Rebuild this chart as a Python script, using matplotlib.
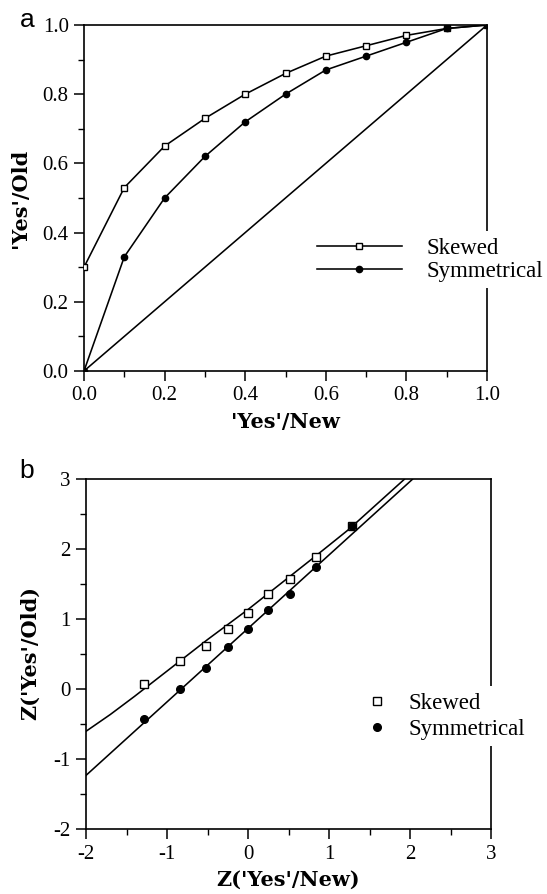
import numpy as np
import matplotlib.pyplot as plt
from matplotlib.ticker import MultipleLocator

plt.rcParams['font.family'] = ['Liberation Serif', 'DejaVu Serif']
plt.rcParams['axes.unicode_minus'] = False

# --- panel a : proportion of 'yes' responses ---
p_new = [0.0, 0.1, 0.2, 0.3, 0.4, 0.5, 0.6, 0.7, 0.8, 0.9, 1.0]
skewed_old = [0.30, 0.53, 0.65, 0.73, 0.80, 0.86, 0.91, 0.94, 0.97, 0.99, 1.0]
symm_old = [0.0, 0.33, 0.50, 0.62, 0.72, 0.80, 0.87, 0.91, 0.95, 0.99, 1.0]
chance_x = [0.0, 1.0]
chance_y = [0.0, 1.0]

# --- panel b : z-transformed ---
z_new = [-1.28, -0.84, -0.52, -0.25, 0.0, 0.25, 0.52, 0.84, 1.28]
z_skewed = [0.08, 0.40, 0.62, 0.86, 1.09, 1.36, 1.57, 1.89, 2.33]
z_symm = [-0.43, 0.0, 0.31, 0.60, 0.86, 1.13, 1.36, 1.75, 2.33]
fit_skewed_x = [-2.0, -1.7, -1.4, -1.0, -0.5, 0.0, 0.82, 1.24, 1.93]
fit_skewed_y = [-0.60, -0.36, -0.10, 0.26, 0.71, 1.14, 1.89, 2.28, 3.0]
fit_symm_x = [-2.0, 2.03]
fit_symm_y = [-1.23, 3.0]

W, H = 547, 894
fig = plt.figure(figsize=(W / 100, H / 100), dpi=100)

# axis titles: wide bold serif to mimic the letter-spaced originals
lab_font = dict(fontsize=15, fontweight='bold', family='DejaVu Serif',
                va='center')


def style_axes(ax):
    for sp in ax.spines.values():
        sp.set_linewidth(1.2)
    ax.tick_params(which='major', direction='out', length=7, width=1.1,
                   labelsize=15, pad=4, top=False, right=False)
    ax.tick_params(which='minor', direction='out', length=4, width=1.0,
                   top=False, right=False)


# panel a
axa = fig.add_axes([84 / W, 1 - 371 / H, 403 / W, 346 / H])
axa.plot(p_new, skewed_old, color='black', lw=1.15, marker='s', ms=4.5,
         mfc='white', mec='black', mew=1.0, label='Skewed', zorder=3)
axa.plot(p_new, symm_old, color='black', lw=1.15, marker='o', ms=4.5,
         mfc='black', mec='black', label='Symmetrical', zorder=3)
axa.plot(chance_x, chance_y, color='black', lw=1.15, zorder=2)
axa.set_xlim(0, 1)
axa.set_ylim(0, 1)
axa.xaxis.set_major_locator(MultipleLocator(0.2))
axa.xaxis.set_minor_locator(MultipleLocator(0.1))
axa.yaxis.set_major_locator(MultipleLocator(0.2))
axa.yaxis.set_minor_locator(MultipleLocator(0.1))
axa.xaxis.set_major_formatter(lambda v, p: f"{v:.1f}")
axa.yaxis.set_major_formatter(lambda v, p: f"{v:.1f}")
style_axes(axa)
axa.set_xlabel("'Yes'/New", **lab_font)
axa.set_ylabel("'Yes'/Old", **lab_font)
axa.xaxis.set_label_coords(0.5, -0.1465)
axa.yaxis.set_label_coords(-0.159, 0.5)
lega = axa.legend(loc='center left', bbox_to_anchor=(0.561, 0.321),
                  fontsize=16.5, frameon=True, fancybox=False, framealpha=1,
                  facecolor='white', edgecolor='none', borderaxespad=0,
                  borderpad=0.3, handlelength=3.7, handletextpad=1.1,
                  labelspacing=0.05)

# panel b
axb = fig.add_axes([86 / W, 1 - 829.3 / H, 405 / W, 350 / H])
axb.plot(z_new, z_skewed, ls='none', marker='s', ms=5.5, mfc='white',
         mec='black', mew=1.0, label='Skewed', zorder=3)
axb.plot(z_new, z_symm, ls='none', marker='o', ms=5.5, mfc='black',
         mec='black', label='Symmetrical', zorder=3)
axb.plot(fit_skewed_x, fit_skewed_y, color='black', lw=1.15, zorder=2)
axb.plot(fit_symm_x, fit_symm_y, color='black', lw=1.15, zorder=2)
axb.set_xlim(-2, 3)
axb.set_ylim(-2, 3)
axb.xaxis.set_major_locator(MultipleLocator(1))
axb.xaxis.set_minor_locator(MultipleLocator(0.5))
axb.yaxis.set_major_locator(MultipleLocator(1))
axb.yaxis.set_minor_locator(MultipleLocator(0.5))
style_axes(axb)
axb.set_xlabel("Z('Yes'/New)", **lab_font)
axb.set_ylabel("Z('Yes'/Old)", **lab_font)
axb.xaxis.set_label_coords(0.5, -0.145)
axb.yaxis.set_label_coords(-0.139, 0.504)
legb = axb.legend(loc='center left', bbox_to_anchor=(0.673, 0.323),
                  fontsize=16.5, frameon=True, fancybox=False, framealpha=1,
                  facecolor='white', edgecolor='none', borderaxespad=0,
                  borderpad=0.3, handlelength=1.0, handletextpad=0.9,
                  labelspacing=0.2)

# panel letters
fig.text(27 / W, 1 - 27.3 / H, 'a', fontsize=19, family='Liberation Sans',
         ha='center', va='baseline')
fig.text(27 / W, 1 - 478.3 / H, 'b', fontsize=19, family='Liberation Sans',
         ha='center', va='baseline')

fig.savefig('out.png', dpi=100)
